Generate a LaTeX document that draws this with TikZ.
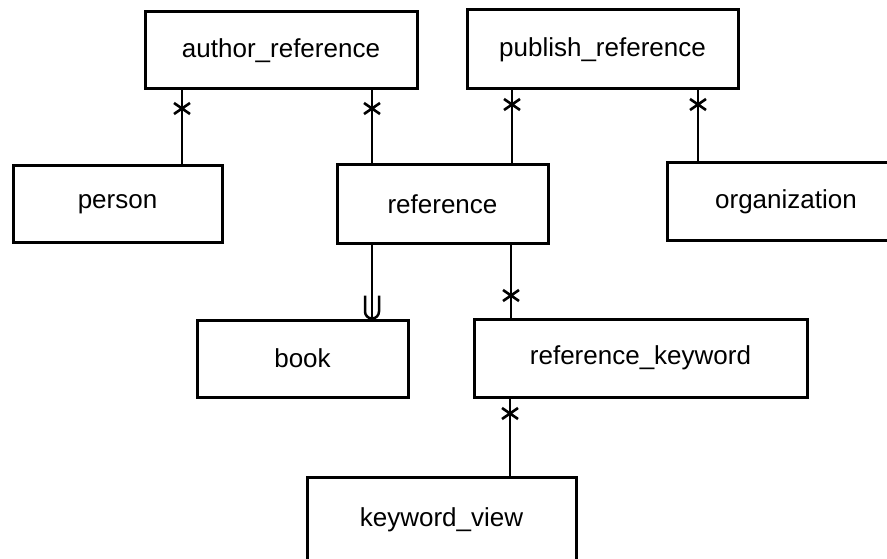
\documentclass[tikz,border=0pt]{standalone}
\usepackage{fontspec}
\setmainfont{Liberation Sans}
\begin{document}
\begin{tikzpicture}[x=1pt, y=-1pt,
  entity/.style={draw, line width=3pt, rectangle, inner sep=0, font=\fontsize{26}{30}\selectfont},
  link/.style={line width=2.5pt},
  many/.pic={\draw[line width=2.6pt] (-8,-5.5) -- (8,5.5) (-8,5.5) -- (8,-5.5);}]
 \useasboundingbox (0,0) rectangle (887,559);
 \clip (0,0) rectangle (887,559);
 % entities
 \node[entity, minimum width=272pt, minimum height=77pt] (authref) at (281,50.5) {author\_reference};
 \node[entity, minimum width=271pt, minimum height=79pt] (pubref) at (602.5,49.5) {publish\_reference};
 \node[entity, minimum width=209pt, minimum height=76pt] (person) at (117.5,204) {person};
 \node[entity, minimum width=211pt, minimum height=78pt] (reference) at (442.5,204) {reference};
 \node[entity, minimum width=238pt, minimum height=77pt] (org) at (786,201.5) {organization};
 \node[entity, minimum width=211pt, minimum height=77pt] (book) at (302.5,358.5) {book};
 \node[entity, minimum width=333pt, minimum height=78pt] (refkw) at (640.5,358) {reference\_keyword};
 \node[entity, minimum width=269pt, minimum height=85pt] (kwview) at (441.5,519.5) {keyword\_view};
 % links
 \draw[link] ([xshift=64.5pt]person.north) -- ([xshift=64.5pt]person.north |- authref.south);
 \path ([xshift=64.5pt]person.north |- authref.south) ++(0,18) pic {many};
 \draw[link] ([xshift=-70.5pt]reference.north) -- ([xshift=-70.5pt]reference.north |- authref.south);
 \path ([xshift=-70.5pt]reference.north |- authref.south) ++(0,18) pic {many};
 \draw[link] ([xshift=69.5pt]reference.north) -- ([xshift=69.5pt]reference.north |- pubref.south);
 \path ([xshift=69.5pt]reference.north |- pubref.south) ++(0,14) pic {many};
 \draw[link] ([xshift=-88pt]org.north) -- ([xshift=-88pt]org.north |- pubref.south);
 \path ([xshift=-88pt]org.north |- pubref.south) ++(0,14) pic {many};
 \draw[link] ([xshift=-70.5pt]reference.south) -- ([xshift=-70.5pt]reference.south |- book.north);
 \draw[link] ([xshift=-70.5pt]reference.south |- book.north) ++(-7,-23) -- ++(0,16) arc[start angle=180, end angle=0, radius=7] -- ++(0,-16);
 \draw[link] ([xshift=68.5pt]reference.south) -- ([xshift=68.5pt]reference.south |- refkw.north);
 \path ([xshift=68.5pt]reference.south |- refkw.north) ++(0,-22) pic {many};
 \draw[link] ([xshift=-130.5pt]refkw.south) -- ([xshift=-130.5pt]refkw.south |- kwview.north);
 \path ([xshift=-130.5pt]refkw.south) ++(0,15) pic {many};
\end{tikzpicture}
\end{document}
